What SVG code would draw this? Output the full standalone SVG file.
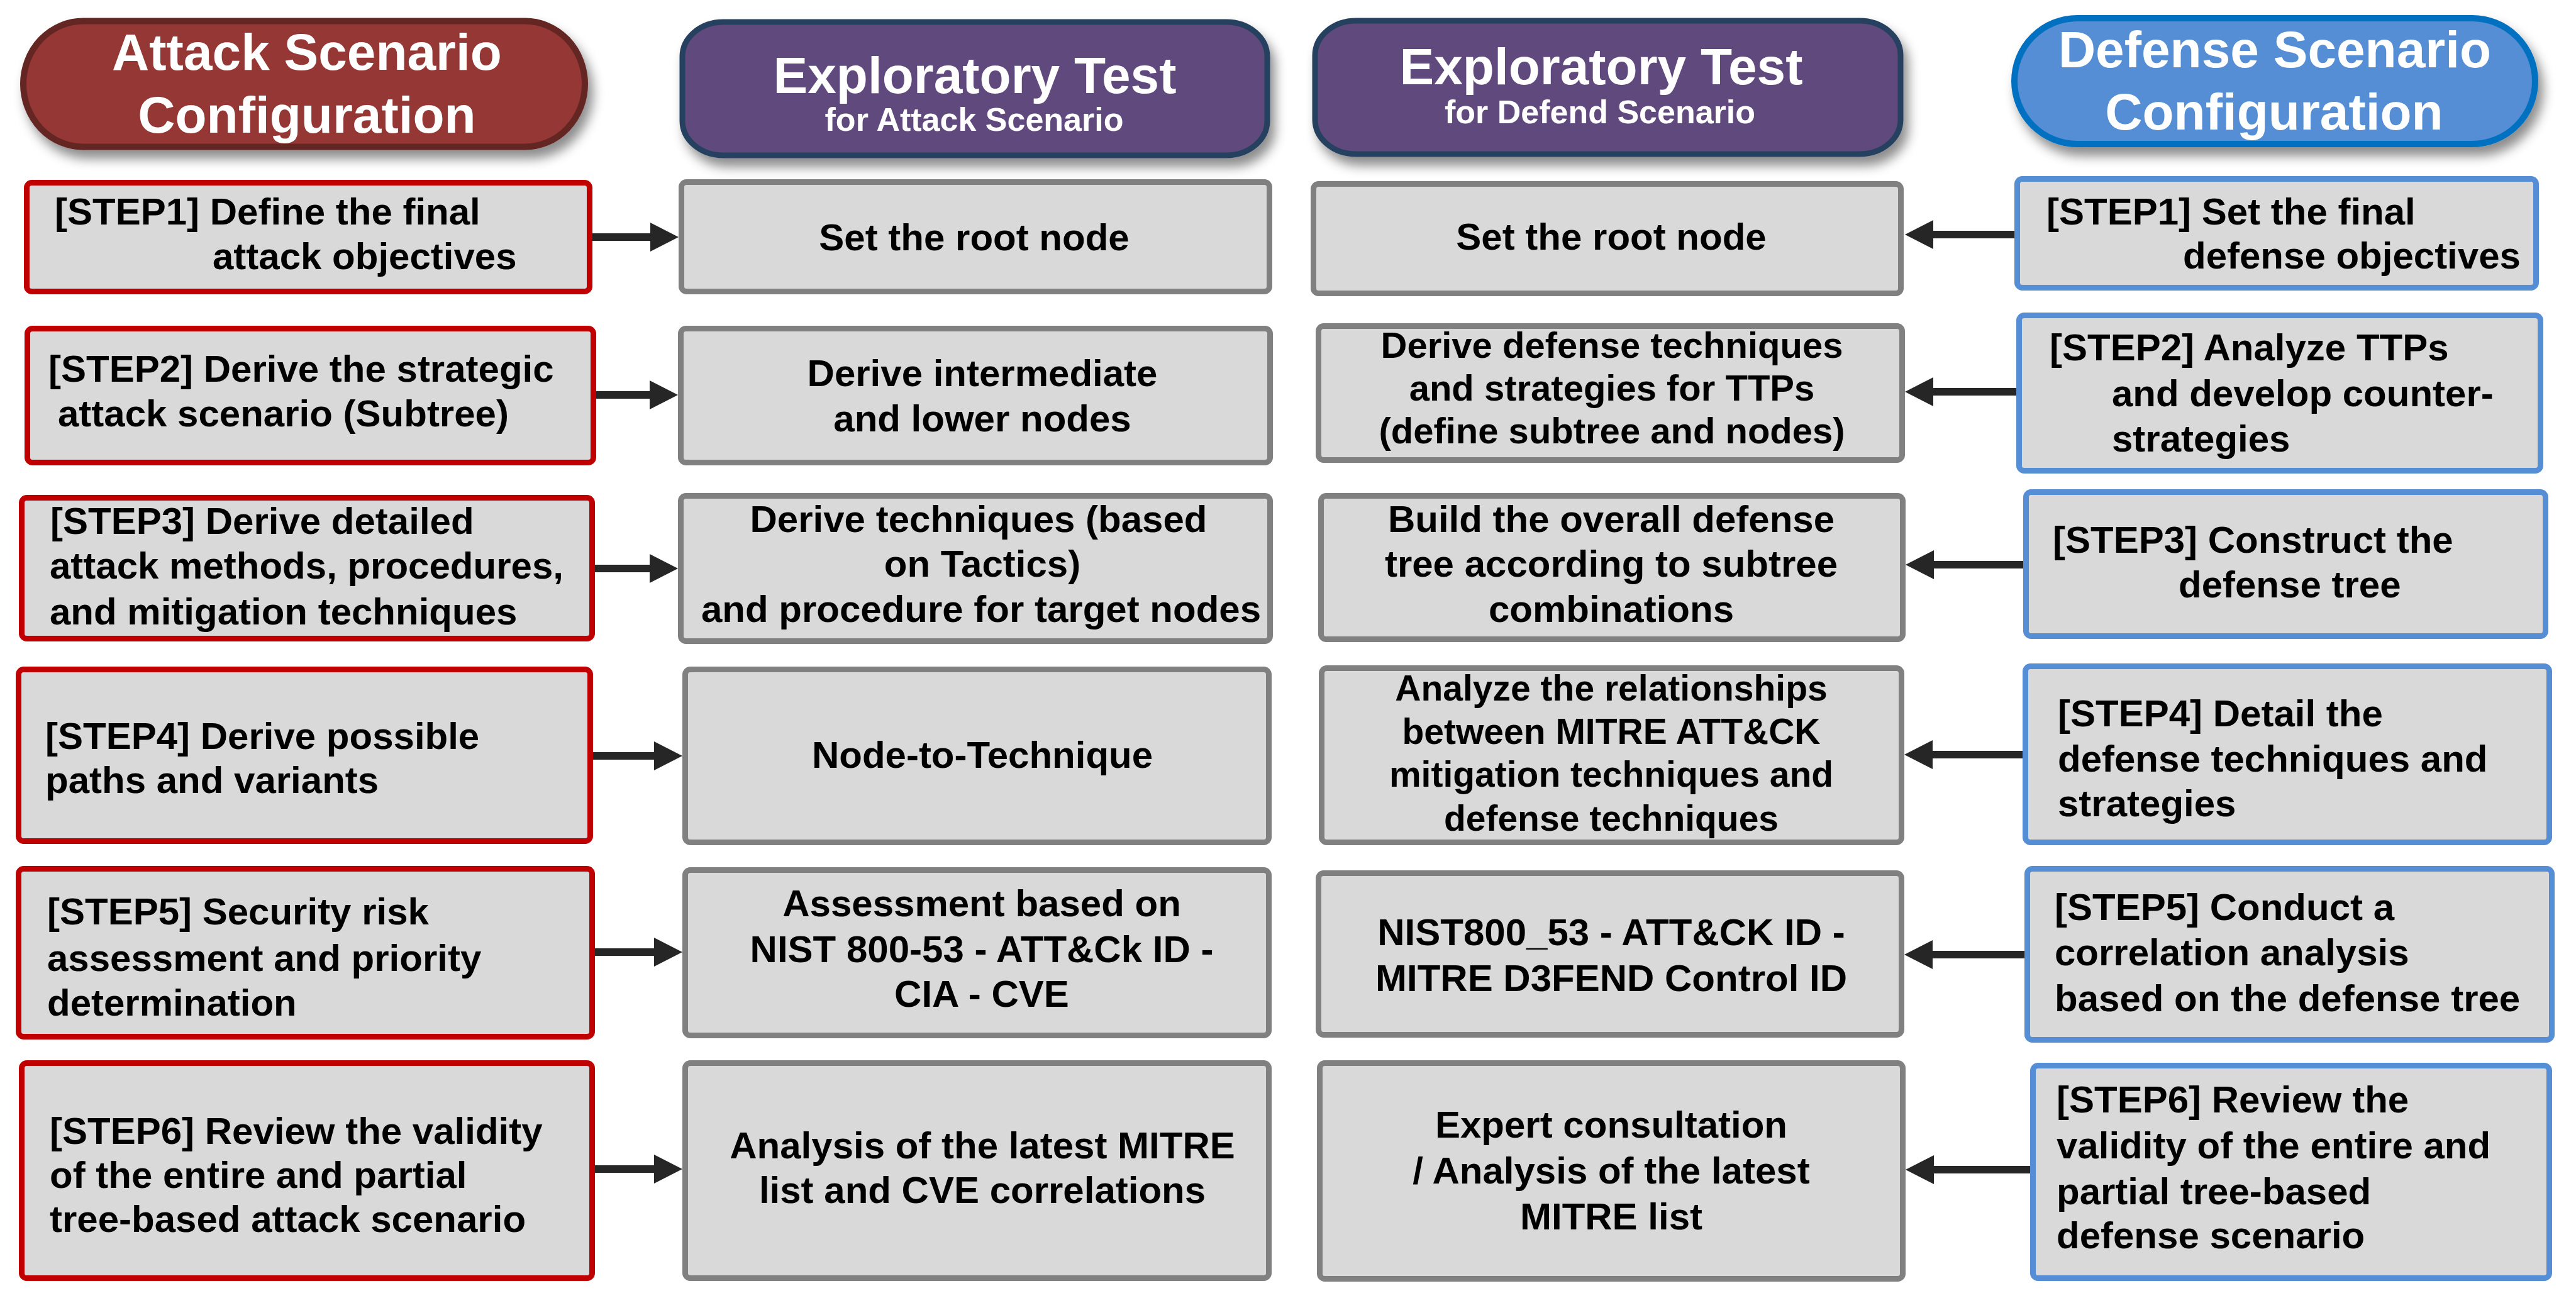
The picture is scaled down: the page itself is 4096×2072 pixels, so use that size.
<svg xmlns="http://www.w3.org/2000/svg" width="4096" height="2072" viewBox="0 0 4096 2072">
<style>
text{font-family:"Liberation Sans",Arial,sans-serif;font-weight:bold;}
.t{font-size:60px;fill:#000;}
.c{text-anchor:middle;}
.h{fill:#fff;font-size:82px;text-anchor:middle;}
.hs{fill:#fff;font-size:52px;text-anchor:middle;}
.ba{fill:#D9D9D9;stroke:#C00000;stroke-width:9;}
.bg{fill:#D9D9D9;stroke:#808080;stroke-width:9;}
.bd{fill:#D9D9D9;stroke:#558ED5;stroke-width:9;}
.conn line{stroke:#262626;stroke-width:12;marker-end:url(#ah);}
</style>
<defs>
<marker id="ah" markerUnits="userSpaceOnUse" markerWidth="50" markerHeight="50" refX="5" refY="23" orient="auto" viewBox="0 0 50 50">
<path d="M0,0 L45,23 L0,46 Z" fill="#262626"/>
</marker>
<filter id="sh" x="-10%" y="-20%" width="125%" height="150%">
<feDropShadow dx="8" dy="14" stdDeviation="9" flood-color="#000" flood-opacity="0.45"/>
</filter>
</defs>
<rect width="4096" height="2072" fill="#fff"/>

<g id="hdr-attack">
<rect x="37" y="33.5" width="893" height="200" rx="95" ry="100" fill="#953735" stroke="#632523" stroke-width="10" filter="url(#sh)"/>
<text class="h" x="488" y="111">Attack Scenario</text>
<text class="h" x="488" y="211">Configuration</text>
</g>
<g id="hdr-explore-attack">
<rect x="1085" y="35" width="930" height="212" rx="65" ry="55" fill="#604A7B" stroke="#254061" stroke-width="9" filter="url(#sh)"/>
<text class="h" x="1550" y="148">Exploratory Test</text>
<text class="hs" x="1549" y="208">for Attack Scenario</text>
</g>
<g id="hdr-explore-defend">
<rect x="2091" y="33" width="931" height="212" rx="65" ry="55" fill="#604A7B" stroke="#254061" stroke-width="9" filter="url(#sh)"/>
<text class="h" x="2546" y="134">Exploratory Test</text>
<text class="hs" x="2544" y="196">for Defend Scenario</text>
</g>
<g id="hdr-defense">
<rect x="3203" y="29" width="828" height="200" rx="100" ry="100" fill="#558ED5" stroke="#0070C0" stroke-width="10" filter="url(#sh)"/>
<text class="h" x="3617" y="107">Defense Scenario</text>
<text class="h" x="3616" y="206">Configuration</text>
</g>

<g id="a1"><rect class="ba" x="42.5" y="290.5" width="895" height="173" rx="8"/>
<text class="t" x="87" y="357">[STEP1] Define the final</text>
<text class="t" x="338" y="428">attack objectives</text></g>
<g id="a2"><rect class="ba" x="43.5" y="522.5" width="900" height="213" rx="8"/>
<text class="t" x="77" y="607">[STEP2] Derive the strategic</text>
<text class="t" x="92" y="678">attack scenario (Subtree)</text></g>
<g id="a3"><rect class="ba" x="34.5" y="791.5" width="907" height="224" rx="8"/>
<text class="t" x="80" y="849">[STEP3] Derive detailed</text>
<text class="t" x="79" y="920">attack methods, procedures,</text>
<text class="t" x="79" y="993">and mitigation techniques</text></g>
<g id="a4"><rect class="ba" x="29.5" y="1064.5" width="909" height="273" rx="8"/>
<text class="t" x="72" y="1191">[STEP4] Derive possible</text>
<text class="t" x="72" y="1261">paths and variants</text></g>
<g id="a5"><rect class="ba" x="29.5" y="1381.5" width="912" height="267" rx="8"/>
<text class="t" x="75" y="1470">[STEP5] Security risk</text>
<text class="t" x="75" y="1544">assessment and priority</text>
<text class="t" x="75" y="1615">determination</text></g>
<g id="a6"><rect class="ba" x="34.5" y="1690.5" width="907" height="342" rx="8"/>
<text class="t" x="79" y="1819">[STEP6] Review the validity</text>
<text class="t" x="79" y="1889">of the entire and partial</text>
<text class="t" x="79" y="1959">tree-based attack scenario</text></g>

<g id="b1"><rect class="bg" x="1083.5" y="289.5" width="935" height="174" rx="8"/>
<text class="t c" x="1549" y="398">Set the root node</text></g>
<g id="b2"><rect class="bg" x="1082.5" y="522.5" width="937" height="213" rx="8"/>
<text class="t c" x="1562" y="614">Derive intermediate</text>
<text class="t c" x="1562" y="686">and lower nodes</text></g>
<g id="b3"><rect class="bg" x="1082.5" y="788.5" width="937" height="231" rx="8"/>
<text class="t c" x="1556" y="846">Derive techniques (based</text>
<text class="t c" x="1562" y="917">on Tactics)</text>
<text class="t c" x="1560" y="989">and procedure for target nodes</text></g>
<g id="b4"><rect class="bg" x="1089.5" y="1064.5" width="928" height="275" rx="8"/>
<text class="t c" x="1562" y="1221">Node-to-Technique</text></g>
<g id="b5"><rect class="bg" x="1089.5" y="1383.5" width="928" height="263" rx="8"/>
<text class="t c" x="1561" y="1457">Assessment based on</text>
<text class="t c" x="1561" y="1530">NIST 800-53 - ATT&amp;Ck ID -</text>
<text class="t c" x="1561" y="1601">CIA - CVE</text></g>
<g id="b6"><rect class="bg" x="1089.5" y="1690.5" width="928" height="342" rx="8"/>
<text class="t c" x="1562" y="1842">Analysis of the latest MITRE</text>
<text class="t c" x="1562" y="1913">list and CVE correlations</text></g>

<g id="c1"><rect class="bg" x="2088.5" y="292.5" width="934" height="174" rx="8"/>
<text class="t c" x="2562" y="397">Set the root node</text></g>
<g id="c2"><rect class="bg" x="2096.5" y="518.5" width="928" height="213" rx="8"/>
<text class="t c" x="2563" y="569" style="font-size:58px">Derive defense techniques</text>
<text class="t c" x="2563" y="637" style="font-size:58px">and strategies for TTPs</text>
<text class="t c" x="2563" y="705" style="font-size:58px">(define subtree and nodes)</text></g>
<g id="c3"><rect class="bg" x="2100.5" y="788.5" width="925" height="228" rx="8"/>
<text class="t c" x="2562" y="846">Build the overall defense</text>
<text class="t c" x="2562" y="917">tree according to subtree</text>
<text class="t c" x="2562" y="989">combinations</text></g>
<g id="c4"><rect class="bg" x="2101.5" y="1062.5" width="922" height="277" rx="8"/>
<text class="t c" x="2562" y="1114" style="font-size:57px">Analyze the relationships</text>
<text class="t c" x="2562" y="1183" style="font-size:57px">between MITRE ATT&amp;CK</text>
<text class="t c" x="2562" y="1251" style="font-size:57px">mitigation techniques and</text>
<text class="t c" x="2562" y="1321" style="font-size:57px">defense techniques</text></g>
<g id="c5"><rect class="bg" x="2096.5" y="1388.5" width="927" height="257" rx="8"/>
<text class="t c" x="2562" y="1503">NIST800_53 - ATT&amp;CK ID -</text>
<text class="t c" x="2562" y="1576">MITRE D3FEND Control ID</text></g>
<g id="c6"><rect class="bg" x="2098.5" y="1690.5" width="927" height="343" rx="8"/>
<text class="t c" x="2562" y="1809">Expert consultation</text>
<text class="t c" x="2562" y="1882">/ Analysis of the latest</text>
<text class="t c" x="2562" y="1955">MITRE list</text></g>

<g id="d1"><rect class="bd" x="3207.5" y="284.5" width="825" height="173" rx="8"/>
<text class="t" x="3254" y="357">[STEP1] Set the final</text>
<text class="t" x="3471" y="427">defense objectives</text></g>
<g id="d2"><rect class="bd" x="3210.5" y="501.5" width="829" height="247" rx="8"/>
<text class="t" x="3259" y="573">[STEP2] Analyze TTPs</text>
<text class="t" x="3358" y="646">and develop counter-</text>
<text class="t" x="3358" y="718">strategies</text></g>
<g id="d3"><rect class="bd" x="3221.5" y="782.5" width="826" height="229" rx="8"/>
<text class="t" x="3264" y="879">[STEP3] Construct the</text>
<text class="t" x="3464" y="950">defense tree</text></g>
<g id="d4"><rect class="bd" x="3220.5" y="1059.5" width="833" height="280" rx="8"/>
<text class="t" x="3272" y="1155">[STEP4] Detail the</text>
<text class="t" x="3272" y="1227">defense techniques and</text>
<text class="t" x="3272" y="1298">strategies</text></g>
<g id="d5"><rect class="bd" x="3223.5" y="1381.5" width="834" height="272" rx="8"/>
<text class="t" x="3267" y="1463">[STEP5] Conduct a</text>
<text class="t" x="3267" y="1535">correlation analysis</text>
<text class="t" x="3267" y="1608">based on the defense tree</text></g>
<g id="d6"><rect class="bd" x="3232.5" y="1694.5" width="821" height="338" rx="8"/>
<text class="t" x="3270" y="1769">[STEP6] Review the</text>
<text class="t" x="3270" y="1842">validity of the entire and</text>
<text class="t" x="3270" y="1915">partial tree-based</text>
<text class="t" x="3270" y="1985">defense scenario</text></g>

<g id="connectors" class="conn">
<line x1="942" y1="377" x2="1039" y2="377"/>
<line x1="948" y1="628" x2="1038" y2="628"/>
<line x1="946" y1="904" x2="1038" y2="904"/>
<line x1="943" y1="1202" x2="1045" y2="1202"/>
<line x1="946" y1="1514" x2="1045" y2="1514"/>
<line x1="946" y1="1859" x2="1045" y2="1859"/>
<line x1="3203" y1="373" x2="3069" y2="373"/>
<line x1="3206" y1="623" x2="3069" y2="623"/>
<line x1="3217" y1="898" x2="3070" y2="898"/>
<line x1="3216" y1="1200" x2="3068" y2="1200"/>
<line x1="3219" y1="1518" x2="3068" y2="1518"/>
<line x1="3228" y1="1860" x2="3070" y2="1860"/>
</g>
</svg>
